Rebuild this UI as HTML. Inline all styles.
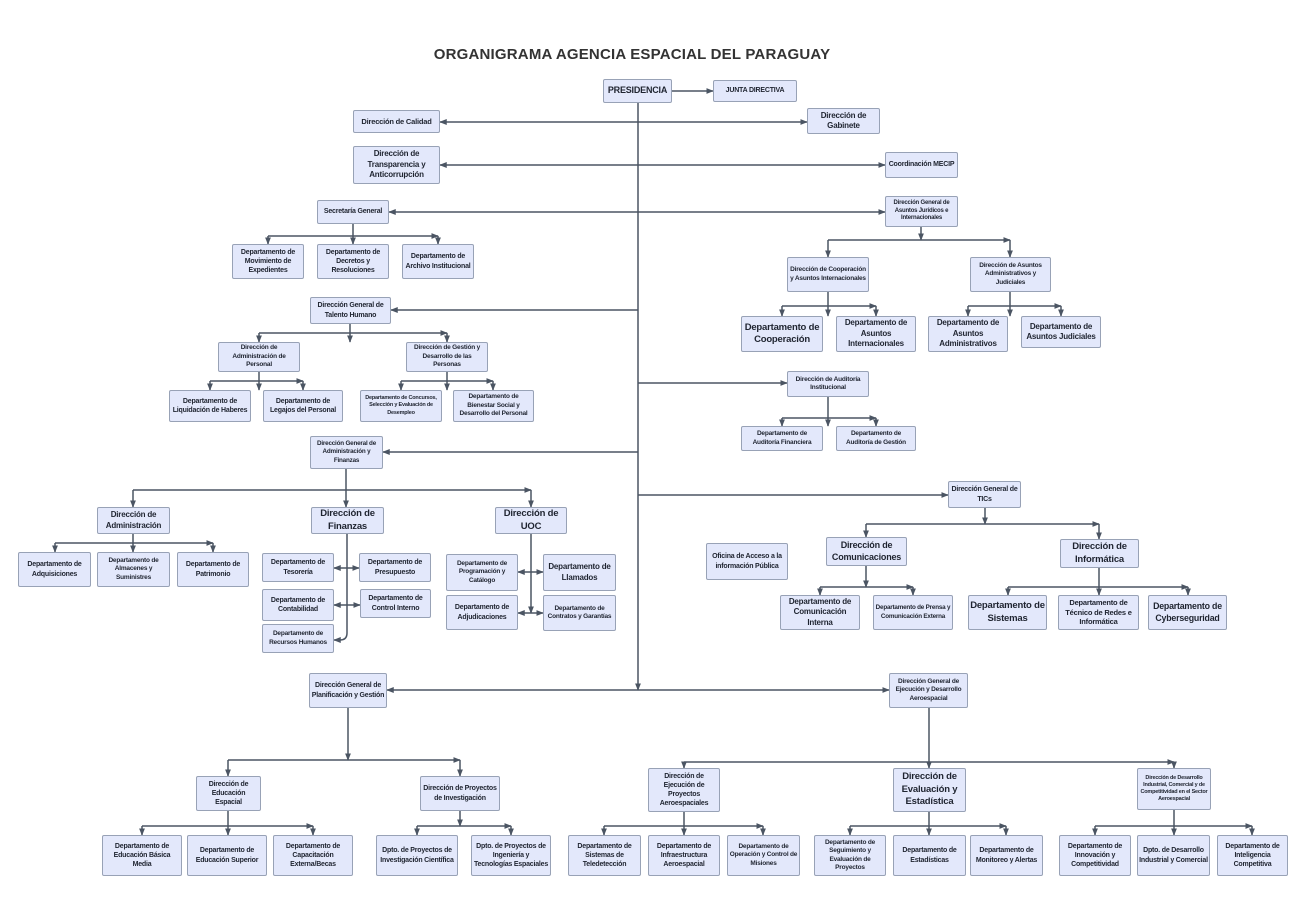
<!DOCTYPE html>
<html><head><meta charset="utf-8"><style>
body{margin:0;width:1310px;height:918px;background:#fff;position:relative;overflow:hidden;font-family:"Liberation Sans",sans-serif;}
.b{position:absolute;box-sizing:border-box;background:#e3e8fb;border:1px solid #98a2b6;border-radius:2px;display:flex;align-items:center;justify-content:center;text-align:center;font-weight:bold;color:#1f2430;font-size:7px;line-height:1.3;padding:0 1px;letter-spacing:-0.2px;overflow:hidden}
.m{font-size:8px}
.l{font-size:9.5px;line-height:1.3}
svg{position:absolute;left:0;top:0}
h1{position:absolute;left:0;width:1264px;top:46px;margin:0;text-align:center;font-size:15px;color:#333;font-weight:bold;letter-spacing:.2px}
</style></head><body>
<h1>ORGANIGRAMA AGENCIA ESPACIAL DEL PARAGUAY</h1>
<svg width="1310" height="918" fill="none" stroke="#4b5563" stroke-width="1.5">
<defs><marker id="a" viewBox="0 0 10 10" refX="9" refY="5" markerWidth="5" markerHeight="5" orient="auto-start-reverse"><path d="M0 1L10 5L0 9z" fill="#4b5563" stroke="none"/></marker></defs>
<g marker-end="url(#a)">
<path d="M638 103V690"/><path d="M672 91H713"/>
<path d="M638 122H807"/><path d="M638 122H440"/>
<path d="M638 165H885"/><path d="M638 165H440"/>
<path d="M638 212H885"/><path d="M638 212H389"/>
<path d="M638 310H391"/><path d="M638 383H787"/><path d="M638 452H383"/><path d="M638 495H948"/>
<path d="M638 690H387"/><path d="M638 690H889"/>
<path d="M353 224V244"/><path d="M268 236H438"/><path d="M268 236V244"/><path d="M438 236V244"/>
<path d="M921 227V240"/><path d="M828 240H1010"/><path d="M828 240V257"/><path d="M1010 240V257"/>
<path d="M828 292V316"/><path d="M782 306H876"/><path d="M782 306V316"/><path d="M876 306V316"/>
<path d="M1010 292V316"/><path d="M968 306H1061"/><path d="M968 306V316"/><path d="M1061 306V316"/>
<path d="M350 324V342"/><path d="M259 333H447"/><path d="M259 333V342"/><path d="M447 333V342"/>
<path d="M259 372V390"/><path d="M210 381H303"/><path d="M210 381V390"/><path d="M303 381V390"/>
<path d="M447 372V390"/><path d="M401 381H493"/><path d="M401 381V390"/><path d="M493 381V390"/>
<path d="M828 397V426"/><path d="M782 418H876"/><path d="M782 418V426"/><path d="M876 418V426"/>
<path d="M346 469V507"/><path d="M133 490H531"/><path d="M133 490V507"/><path d="M531 490V507"/>
<path d="M133 534V552"/><path d="M55 543H213"/><path d="M55 543V552"/><path d="M213 543V552"/>
<path d="M347 534V633Q347 640 340 640H334"/>
<path d="M347 568H334"/><path d="M347 568H359"/><path d="M347 605H334"/><path d="M347 605H360"/>
<path d="M531 534V613"/><path d="M531 572H518"/><path d="M531 572H543"/><path d="M531 613H518"/><path d="M531 613H543"/>
<path d="M985 508V524"/><path d="M866 524H1099"/><path d="M866 524V537"/><path d="M1099 524V539"/>
<path d="M866 566V587"/><path d="M820 587H913"/><path d="M820 587V595"/><path d="M913 587V595"/>
<path d="M1099 568V595"/><path d="M1008 587H1188"/><path d="M1008 587V595"/><path d="M1188 587V595"/>
<path d="M348 708V760"/><path d="M228 760H460"/><path d="M228 760V776"/><path d="M460 760V776"/>
<path d="M228 811V835"/><path d="M142 826H313"/><path d="M142 826V835"/><path d="M313 826V835"/>
<path d="M460 811V826"/><path d="M417 826H511"/><path d="M417 826V835"/><path d="M511 826V835"/>
<path d="M929 708V768"/><path d="M684 762H1174"/><path d="M684 762V768"/><path d="M1174 762V768"/>
<path d="M684 812V835"/><path d="M604 826H763"/><path d="M604 826V835"/><path d="M763 826V835"/>
<path d="M929 812V835"/><path d="M850 826H1006"/><path d="M850 826V835"/><path d="M1006 826V835"/>
<path d="M1174 810V835"/><path d="M1095 826H1252"/><path d="M1095 826V835"/><path d="M1252 826V835"/>
</g>
</svg>
<div class="b m" style="left:603px;top:79px;width:69px;height:24px;font-size:9px">PRESIDENCIA</div>
<div class="b" style="left:713px;top:80px;width:84px;height:22px">JUNTA DIRECTIVA</div>
<div class="b m" style="left:353px;top:110px;width:87px;height:23px;white-space:nowrap;font-size:7.5px">Dirección de Calidad</div>
<div class="b m" style="left:807px;top:108px;width:73px;height:26px">Dirección de Gabinete</div>
<div class="b m" style="left:353px;top:146px;width:87px;height:38px">Dirección de Transparencia y Anticorrupción</div>
<div class="b" style="left:885px;top:152px;width:73px;height:26px">Coordinación MECIP</div>
<div class="b" style="left:317px;top:200px;width:72px;height:24px">Secretaría General</div>
<div class="b" style="left:885px;top:196px;width:73px;height:31px;font-size:6px">Dirección General de Asuntos Jurídicos e Internacionales</div>
<div class="b" style="left:232px;top:244px;width:72px;height:35px">Departamento de Movimiento de Expedientes</div>
<div class="b" style="left:317px;top:244px;width:72px;height:35px">Departamento de Decretos y Resoluciones</div>
<div class="b" style="left:402px;top:244px;width:72px;height:35px">Departamento de Archivo Institucional</div>
<div class="b" style="left:787px;top:257px;width:82px;height:35px;font-size:6.5px">Dirección de Cooperación y Asuntos Internacionales</div>
<div class="b" style="left:970px;top:257px;width:81px;height:35px;font-size:6.5px">Dirección de Asuntos Administrativos y Judiciales</div>
<div class="b l" style="left:741px;top:316px;width:82px;height:36px">Departamento de Cooperación</div>
<div class="b m" style="left:836px;top:316px;width:80px;height:36px">Departamento de Asuntos Internacionales</div>
<div class="b m" style="left:928px;top:316px;width:80px;height:36px">Departamento de Asuntos Administrativos</div>
<div class="b m" style="left:1021px;top:316px;width:80px;height:32px">Departamento de Asuntos Judiciales</div>
<div class="b" style="left:310px;top:297px;width:81px;height:27px">Dirección General de Talento Humano</div>
<div class="b" style="left:218px;top:342px;width:82px;height:30px;font-size:6.5px">Dirección de Administración de Personal</div>
<div class="b" style="left:406px;top:342px;width:82px;height:30px;font-size:6.5px">Dirección de Gestión y Desarrollo de las Personas</div>
<div class="b" style="left:169px;top:390px;width:82px;height:32px">Departamento de Liquidación de Haberes</div>
<div class="b" style="left:263px;top:390px;width:80px;height:32px">Departamento de Legajos del Personal</div>
<div class="b" style="left:360px;top:390px;width:82px;height:32px;font-size:5.5px">Departamento de Concursos, Selección y Evaluación de Desempleo</div>
<div class="b" style="left:453px;top:390px;width:81px;height:32px;font-size:6.5px">Departamento de Bienestar Social y Desarrollo del Personal</div>
<div class="b" style="left:787px;top:371px;width:82px;height:26px;font-size:6.5px">Dirección de Auditoría Institucional</div>
<div class="b" style="left:741px;top:426px;width:82px;height:25px;font-size:6.5px">Departamento de Auditoría Financiera</div>
<div class="b" style="left:836px;top:426px;width:80px;height:25px;font-size:6.5px">Departamento de Auditoría de Gestión</div>
<div class="b" style="left:310px;top:436px;width:73px;height:33px;font-size:6.3px">Dirección General de Administración y Finanzas</div>
<div class="b m" style="left:97px;top:507px;width:73px;height:27px">Dirección de Administración</div>
<div class="b l" style="left:311px;top:507px;width:73px;height:27px">Dirección de Finanzas</div>
<div class="b l" style="left:495px;top:507px;width:72px;height:27px">Dirección de UOC</div>
<div class="b" style="left:18px;top:552px;width:73px;height:35px">Departamento de Adquisiciones</div>
<div class="b" style="left:97px;top:552px;width:73px;height:35px;font-size:6.5px">Departamento de Almacenes y Suministres</div>
<div class="b" style="left:177px;top:552px;width:72px;height:35px">Departamento de Patrimonio</div>
<div class="b" style="left:262px;top:553px;width:72px;height:29px">Departamento de Tesorería</div>
<div class="b" style="left:359px;top:553px;width:72px;height:29px">Departamento de Presupuesto</div>
<div class="b" style="left:262px;top:589px;width:72px;height:32px">Departamento de Contabilidad</div>
<div class="b" style="left:360px;top:589px;width:71px;height:29px">Departamento de Control Interno</div>
<div class="b" style="left:262px;top:624px;width:72px;height:29px;font-size:6.5px">Departamento de Recursos Humanos</div>
<div class="b" style="left:446px;top:554px;width:72px;height:37px;font-size:6.5px">Departamento de Programación y Catálogo</div>
<div class="b m" style="left:543px;top:554px;width:73px;height:37px">Departamento de Llamados</div>
<div class="b" style="left:446px;top:595px;width:72px;height:35px">Departamento de Adjudicaciones</div>
<div class="b" style="left:543px;top:595px;width:73px;height:36px;font-size:6.5px">Departamento de Contratos y Garantías</div>
<div class="b" style="left:948px;top:481px;width:73px;height:27px">Dirección General de TICs</div>
<div class="b" style="left:706px;top:543px;width:82px;height:37px">Oficina de Acceso a la información Pública</div>
<div class="b l" style="left:826px;top:537px;width:81px;height:29px;font-size:9px">Dirección de Comunicaciones</div>
<div class="b l" style="left:1060px;top:539px;width:79px;height:29px">Dirección de Informática</div>
<div class="b m" style="left:780px;top:595px;width:80px;height:35px">Departamento de Comunicación Interna</div>
<div class="b" style="left:873px;top:595px;width:80px;height:35px;font-size:6.3px">Departamento de Prensa y Comunicación Externa</div>
<div class="b l" style="left:968px;top:595px;width:79px;height:35px">Departamento de Sistemas</div>
<div class="b m" style="left:1058px;top:595px;width:81px;height:35px;font-size:7.5px">Departamento de Técnico de Redes e Informática</div>
<div class="b l" style="left:1148px;top:595px;width:79px;height:35px;font-size:8.8px">Departamento de Cyberseguridad</div>
<div class="b" style="left:309px;top:673px;width:78px;height:35px">Dirección General de Planificación y Gestión</div>
<div class="b" style="left:889px;top:673px;width:79px;height:35px;font-size:6.5px">Dirección General de Ejecución y Desarrollo Aeroespacial</div>
<div class="b" style="left:196px;top:776px;width:65px;height:35px">Dirección de Educación Espacial</div>
<div class="b" style="left:420px;top:776px;width:80px;height:35px">Dirección de Proyectos de Investigación</div>
<div class="b" style="left:648px;top:768px;width:72px;height:44px">Dirección de Ejecución de Proyectos Aeroespaciales</div>
<div class="b l" style="left:893px;top:768px;width:73px;height:44px">Dirección de Evaluación y Estadística</div>
<div class="b" style="left:1137px;top:768px;width:74px;height:42px;font-size:5.5px">Dirección de Desarrollo Industrial, Comercial y de Competitividad en el Sector Aeroespacial</div>
<div class="b" style="left:102px;top:835px;width:80px;height:41px">Departamento de Educación Básica Media</div>
<div class="b" style="left:187px;top:835px;width:80px;height:41px">Departamento de Educación Superior</div>
<div class="b" style="left:273px;top:835px;width:80px;height:41px">Departamento de Capacitación Externa/Becas</div>
<div class="b" style="left:376px;top:835px;width:82px;height:41px">Dpto. de Proyectos de Investigación Científica</div>
<div class="b" style="left:471px;top:835px;width:80px;height:41px">Dpto. de Proyectos de Ingeniería y Tecnologías Espaciales</div>
<div class="b" style="left:568px;top:835px;width:73px;height:41px">Departamento de Sistemas de Teledetección</div>
<div class="b" style="left:648px;top:835px;width:72px;height:41px">Departamento de Infraestructura Aeroespacial</div>
<div class="b" style="left:727px;top:835px;width:73px;height:41px;font-size:6.5px">Departamento de Operación y Control de Misiones</div>
<div class="b" style="left:814px;top:835px;width:72px;height:41px;font-size:6.5px">Departamento de Seguimiento y Evaluación de Proyectos</div>
<div class="b" style="left:893px;top:835px;width:73px;height:41px">Departamento de Estadísticas</div>
<div class="b" style="left:970px;top:835px;width:73px;height:41px">Departamento de Monitoreo y Alertas</div>
<div class="b" style="left:1059px;top:835px;width:72px;height:41px">Departamento de Innovación y Competitividad</div>
<div class="b" style="left:1137px;top:835px;width:73px;height:41px">Dpto. de Desarrollo Industrial y Comercial</div>
<div class="b" style="left:1217px;top:835px;width:71px;height:41px">Departamento de Inteligencia Competitiva</div>
</body></html>
